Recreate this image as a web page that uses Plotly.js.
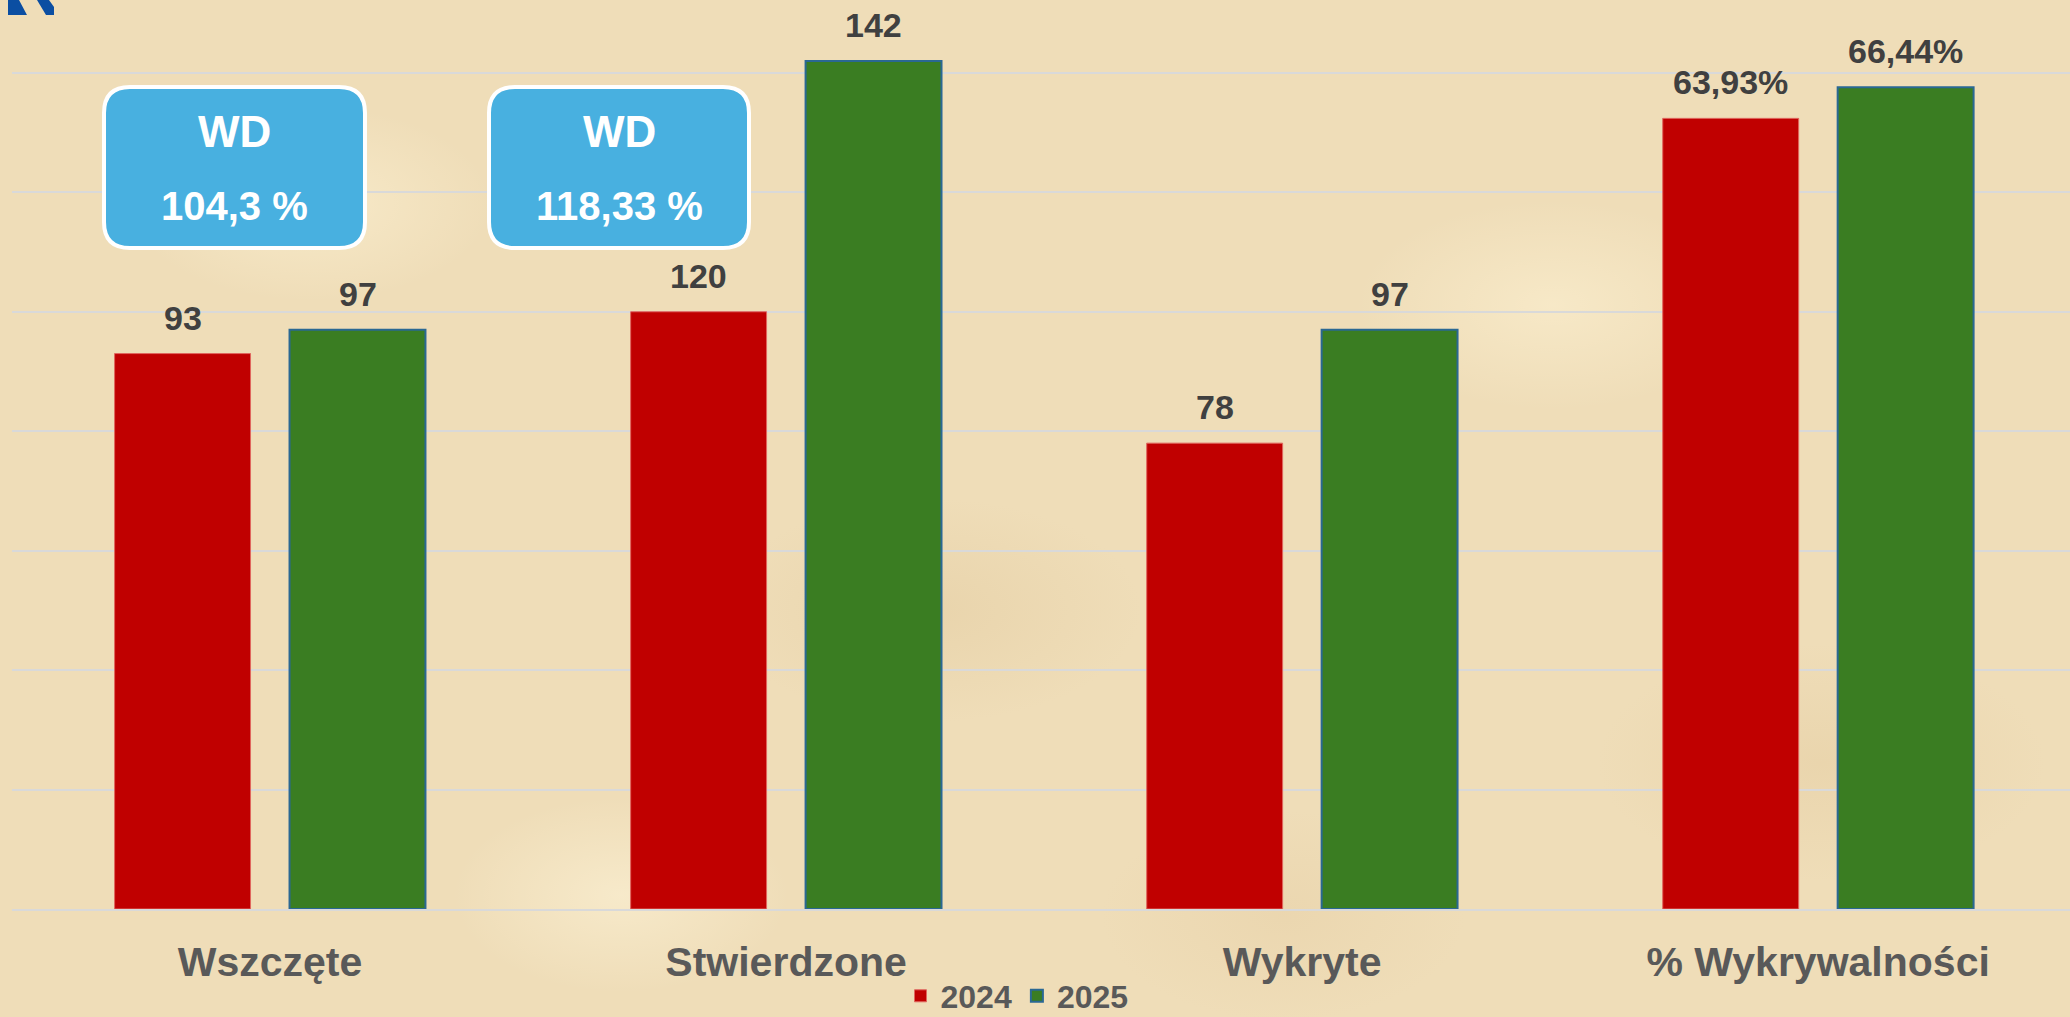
<!DOCTYPE html>
<html>
<head>
<meta charset="utf-8">
<script src="https://cdn.plot.ly/plotly-3.0.1.min.js"></script>
<style>
  html, body { margin: 0; padding: 0; }
  body {
    width: 2070px; height: 1017px; overflow: hidden;
    background-color: #EFDDB8;
    background-image:
      radial-gradient(ellipse 260px 140px at 15% 20%, rgba(255,244,214,0.55), rgba(255,244,214,0) 70%),
      radial-gradient(ellipse 300px 160px at 45% 60%, rgba(222,196,150,0.35), rgba(222,196,150,0) 70%),
      radial-gradient(ellipse 280px 150px at 75% 30%, rgba(255,244,214,0.5), rgba(255,244,214,0) 70%),
      radial-gradient(ellipse 320px 170px at 88% 75%, rgba(224,198,152,0.35), rgba(224,198,152,0) 70%),
      radial-gradient(ellipse 240px 140px at 30% 88%, rgba(255,246,220,0.5), rgba(255,246,220,0) 70%),
      radial-gradient(ellipse 260px 150px at 62% 90%, rgba(226,200,156,0.3), rgba(226,200,156,0) 70%);
  }
  #chart { width: 2070px; height: 1017px; }
</style>
</head>
<body>
<div id="chart"></div>
<script>
// ---- data ----
const categories = ["Wszczęte", "Stwierdzone", "Wykryte", "% Wykrywalności"];
const countCategories = ["Wszczęte", "Stwierdzone", "Wykryte"];
// bar heights as drawn in the reference picture (the "Stwierdzone 2024" bar is drawn at ~100 there)
const values2024 = [93, 100, 78];
const values2025 = [97, 142, 97];
// data labels as printed in the reference picture
const labels2024 = ["93", "120", "78"];
const labels2025 = ["97", "142", "97"];
const pctCategory = ["% Wykrywalności"];
const pct2024 = [63.93];
const pct2025 = [66.44];
const seriesNames = ["2024", "2025"];
const wdLabels = ["WD", "WD"];
const wdValues = ["104,3 %", "118,33 %"];

// ---- layout helpers (pixel -> paper) ----
const W = 2070, H = 1017;
const M = {l: 12, r: 0, t: 0, b: 108, autoexpand: false};
const PW = W - M.l - M.r, PH = H - M.t - M.b;
const px = x => (x - M.l) / PW;
const py = y => (H - M.b - y) / PH;

function roundRect(x0, y0, x1, y1, r) {
  const p = (x, y) => px(x) + ',' + py(y);
  return 'M' + p(x0 + r, y0) + ' L' + p(x1 - r, y0) + ' Q' + p(x1, y0) + ' ' + p(x1, y0 + r) +
         ' L' + p(x1, y1 - r) + ' Q' + p(x1, y1) + ' ' + p(x1 - r, y1) +
         ' L' + p(x0 + r, y1) + ' Q' + p(x0, y1) + ' ' + p(x0, y1 - r) +
         ' L' + p(x0, y0 + r) + ' Q' + p(x0, y0) + ' ' + p(x0 + r, y0) + ' Z';
}
function poly(pts) {
  return 'M' + pts.map(q => px(q[0]) + ',' + py(q[1])).join(' L') + ' Z';
}

const red = '#C00000', green = '#3A7D22';
const FAMILY = 'Liberation Sans, Arial, sans-serif';
const labelFont = {family: FAMILY, size: 34, color: '#404040', weight: 'bold'};

const traces = [
  {type: 'bar', name: seriesNames[0], x: countCategories, y: values2024,
   marker: {color: red, line: {color: '#E0665E', width: 1}}, textposition: 'none', hoverinfo: 'skip'},
  {type: 'bar', name: seriesNames[1], x: countCategories, y: values2025,
   marker: {color: green, line: {color: '#2A6893', width: 2}}, textposition: 'none', hoverinfo: 'skip'},
  {type: 'bar', name: seriesNames[0], x: pctCategory, y: pct2024, yaxis: 'y2', showlegend: false,
   marker: {color: red, line: {color: '#E0665E', width: 1}}, textposition: 'none', hoverinfo: 'skip'},
  {type: 'bar', name: seriesNames[1], x: pctCategory, y: pct2025, yaxis: 'y2', showlegend: false,
   marker: {color: green, line: {color: '#2A6893', width: 2}}, textposition: 'none', hoverinfo: 'skip'}
];

// bar slot half-offset in pixels (category width 516 px, slot 175 px)
const SLOT = 87.5, LIFT = 36;
const annotations = [];
countCategories.forEach((c, i) => {
  annotations.push({xref: 'x', yref: 'y', x: c, y: values2024[i], text: labels2024[i],
    xshift: -SLOT, yshift: LIFT, showarrow: false, xanchor: 'center', yanchor: 'middle', font: labelFont});
  annotations.push({xref: 'x', yref: 'y', x: c, y: values2025[i], text: labels2025[i],
    xshift: SLOT, yshift: LIFT, showarrow: false, xanchor: 'center', yanchor: 'middle', font: labelFont});
});
const fmtPct = v => v.toFixed(2).replace('.', ',') + '%';
pctCategory.forEach((c, i) => {
  annotations.push({xref: 'x', yref: 'y2', x: c, y: pct2024[i], text: fmtPct(pct2024[i]),
    xshift: -SLOT, yshift: LIFT, showarrow: false, xanchor: 'center', yanchor: 'middle', font: labelFont});
  annotations.push({xref: 'x', yref: 'y2', x: c, y: pct2025[i], text: fmtPct(pct2025[i]),
    xshift: SLOT, yshift: LIFT, showarrow: false, xanchor: 'center', yanchor: 'middle', font: labelFont});
});

const boxes = [[104, 87, 365, 248], [489, 87, 749, 248]];
const shapes = boxes.map(b => ({
  type: 'path', xref: 'paper', yref: 'paper', path: roundRect(b[0], b[1], b[2], b[3], 26),
  fillcolor: '#48B0E0', line: {color: '#FFFFFF', width: 4}, layer: 'above'
}));
shapes.push({type: 'path', xref: 'paper', yref: 'paper', fillcolor: '#0B4EA2', line: {width: 0},
  path: poly([[8, 0], [19, 0], [27, 15], [8, 15]])});
shapes.push({type: 'path', xref: 'paper', yref: 'paper', fillcolor: '#0B4EA2', line: {width: 0},
  path: poly([[37, 0], [49, 0], [54, 7], [54, 15], [46, 15]])});

boxes.forEach((b, i) => {
  const cx = (b[0] + b[2]) / 2;
  annotations.push({xref: 'paper', yref: 'paper', x: px(cx), y: py(132), text: wdLabels[i],
    showarrow: false, xanchor: 'center', yanchor: 'middle',
    font: {family: FAMILY, size: 44, color: '#FFFFFF', weight: 'bold'}});
  annotations.push({xref: 'paper', yref: 'paper', x: px(cx), y: py(206), text: wdValues[i],
    showarrow: false, xanchor: 'center', yanchor: 'middle',
    font: {family: FAMILY, size: 40, color: '#FFFFFF', weight: 'bold'}});
});

const layout = {
  width: W, height: H,
  margin: M,
  paper_bgcolor: 'rgba(0,0,0,0)', plot_bgcolor: 'rgba(0,0,0,0)',
  separators: ',.',
  barmode: 'group', bargap: 0.322, bargroupgap: 0.223,
  showlegend: true,
  legend: {orientation: 'h', x: px(1017), xanchor: 'center', y: py(996), yanchor: 'middle',
    bgcolor: 'rgba(0,0,0,0)', tracegroupgap: 0,
    font: {family: FAMILY, size: 32, color: '#595959', weight: 'bold'}},
  xaxis: {type: 'category', categoryorder: 'array', categoryarray: categories,
    range: [-0.5, 3.488], fixedrange: true, automargin: false,
    showline: true, linecolor: '#D9D9D9', linewidth: 2,
    ticks: 'outside', ticklen: 16, tickcolor: 'rgba(0,0,0,0)',
    tickfont: {family: FAMILY, size: 41, color: '#595959', weight: 'bold'},
    showgrid: false, zeroline: false},
  yaxis: {range: [0, 152.2], dtick: 20, showgrid: true, gridcolor: '#D9D9D9', gridwidth: 2,
    showticklabels: false, zeroline: false, ticks: '', fixedrange: true, automargin: false},
  yaxis2: {range: [0, 73.5], overlaying: 'y', side: 'right', visible: false, showgrid: false,
    zeroline: false, fixedrange: true, automargin: false},
  shapes: shapes,
  annotations: annotations
};

Plotly.newPlot('chart', traces, layout, {displayModeBar: false, staticPlot: true});
</script>
</body>
</html>
